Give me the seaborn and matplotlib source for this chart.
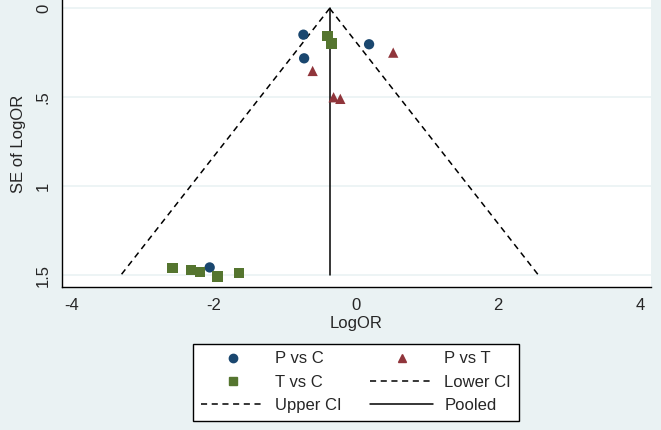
import seaborn as sns
import pandas as pd
import matplotlib.pyplot as plt
import numpy as np
from matplotlib.lines import Line2D

sns.set_style('white')
plt.rcParams['font.family'] = ['Liberation Sans', 'DejaVu Sans']

# comparisons
pc_logor = [-0.74, 0.185, -0.73, -2.06]
pc_se = [0.148, 0.202, 0.281, 1.457]
pt_logor = [0.525, -0.61, -0.315, -0.22]
pt_se = [0.249, 0.352, 0.500, 0.509]
tc_logor = [-0.40, -0.344, -2.585, -2.32, -2.20, -1.95, -1.646]
tc_se = [0.154, 0.198, 1.461, 1.472, 1.481, 1.508, 1.489]

pooled = -0.37
se_max = 1.5
xticks = [-4, -2, 0, 2, 4]
yticks = [0, 0.5, 1, 1.5]
ytick_labels = ['0', '.5', '1', '1.5']

bg = '#EAF2F3'
colors = {'P vs C': '#1A476F', 'P vs T': '#90353B', 'T vs C': '#55752F'}
markers = {'P vs C': 'o', 'P vs T': '^', 'T vs C': 's'}

df = pd.concat([
    pd.DataFrame({'logor': pc_logor, 'se': pc_se, 'group': 'P vs C'}),
    pd.DataFrame({'logor': pt_logor, 'se': pt_se, 'group': 'P vs T'}),
    pd.DataFrame({'logor': tc_logor, 'se': tc_se, 'group': 'T vs C'}),
])

fig = plt.figure(figsize=(6.61, 4.30), dpi=100, facecolor=bg)
ax = fig.add_axes([0.0938, 0.3326, 0.891, 0.6674])
ax.set_facecolor('white')

for y in yticks:
    ax.axhline(y, color=bg, lw=1.2, zorder=0)

se_line = np.array([0, se_max])
ax.plot(pooled - 1.96 * se_line, se_line, color='black', ls=(0, (4, 3)), lw=1.1)
ax.plot(pooled + 1.96 * se_line, se_line, color='black', ls=(0, (4, 3)), lw=1.1)
ax.plot([pooled, pooled], se_line, color='black', lw=1.1)

sns.scatterplot(data=df, x='logor', y='se', hue='group', style='group',
                palette=colors, markers=markers, s=55, edgecolor='none',
                legend=False, ax=ax, zorder=3)

ax.set_xlim(-4.14, 4.155)
ax.set_ylim(1.567, -0.047)
ax.set_xticks(xticks)
ax.set_xticklabels([str(t) for t in xticks], fontsize=12)
ax.set_yticks(yticks)
ax.set_yticklabels(ytick_labels, fontsize=12, rotation=90, va='center')
ax.tick_params(axis='both', direction='out', length=5, width=1, color='black', pad=3)
ax.set_xlabel('LogOR', fontsize=12, labelpad=2)
ax.set_ylabel('SE of LogOR', fontsize=12, labelpad=7)
for side in ['top', 'right']:
    ax.spines[side].set_visible(False)
for side in ['left', 'bottom']:
    ax.spines[side].set_color('black')
    ax.spines[side].set_linewidth(1)

handles = [
    Line2D([], [], marker='o', ls='none', color=colors['P vs C'], markersize=6, label='P vs C'),
    Line2D([], [], marker='s', ls='none', color=colors['T vs C'], markersize=6, label='T vs C'),
    Line2D([], [], color='black', ls=(0, (4, 3)), lw=1.1, label='Upper CI'),
    Line2D([], [], marker='^', ls='none', color=colors['P vs T'], markersize=6, label='P vs T'),
    Line2D([], [], color='black', ls=(0, (4, 3)), lw=1.1, label='Lower CI'),
    Line2D([], [], color='black', lw=1.1, label='Pooled'),
]
leg = fig.legend(handles=handles, ncol=2, loc='center', bbox_to_anchor=(0.5386, 0.111),
                 fontsize=12, frameon=True, fancybox=False, edgecolor='black',
                 facecolor='white', framealpha=1,
                 handlelength=3.8, columnspacing=1.7, labelspacing=0.5,
                 borderpad=0.45, handletextpad=0.65)
leg.get_frame().set_linewidth(1)

fig.savefig('out.png', dpi=100, facecolor=bg)
